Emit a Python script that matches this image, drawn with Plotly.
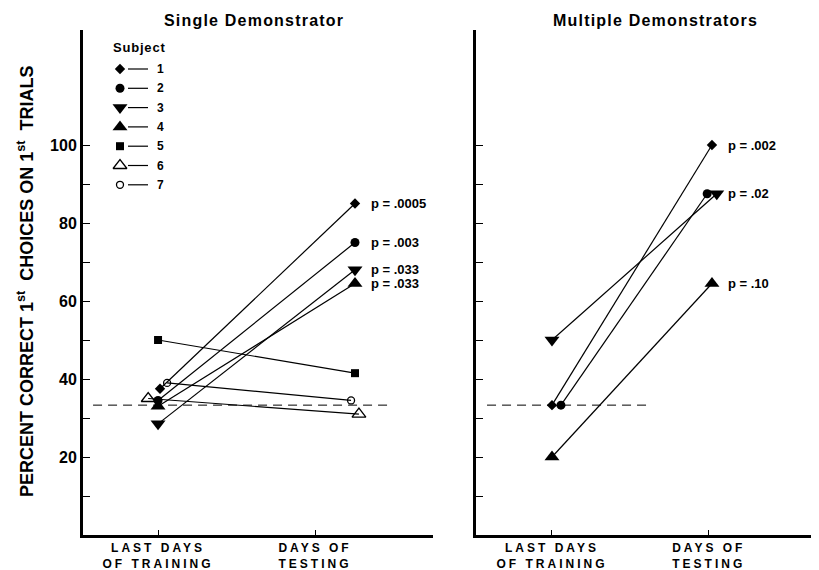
import plotly.graph_objects as go

# ---------------- data ----------------
subjects = ["1", "2", "3", "4", "5", "6", "7"]
single_training = [37.5, 34.5, 28.5, 33.0, 50.0, 35.0, 39.0]
single_testing = [85.0, 75.0, 68.0, 64.5, 41.5, 31.0, 34.5]
single_p = ["p = .0005", "p = .003", "p = .033", "p = .033", None, None, None]

multi_symbol_subject = ["1", "2", "3", "4"]
multi_training = [33.3, 33.3, 50.0, 20.0]
multi_testing = [100.0, 87.5, 87.5, 64.5]
multi_p = ["p = .002", None, "p = .02", "p = .10"]

chance = 33.3
phase_labels = ["LAST DAYS<br>OF TRAINING", "DAYS OF<br>TESTING"]
y_major_ticks = [20, 40, 60, 80, 100]
y_ticktext = ["20", "40", "60", "80", "100"]
y_minor_ticks = [10, 30, 50, 70, 90]

# ---------------- styles / layout ----------------
OFF = 8                      # page body margin
W, H = 819 - OFF, 570 - OFF  # figure size
FONT = "Liberation Sans"
sym = {"1": ("diamond", 8), "2": ("circle", 9), "3": ("triangle-down", 13),
       "4": ("triangle-up", 13), "5": ("square", 8),
       "6": ("triangle-up-open", 12), "7": ("circle-open", 7)}
# small horizontal offsets used to separate overlapping markers
left_jit_train = [0.01, 0, 0, 0, 0, -0.05, 0.046]
left_jit_test = [0, 0, 0, 0, 0, 0.02, -0.02]
right_jit_train = [0, 0.056, 0, 0]
right_jit_test = [0, -0.03, 0.03, 0]


def px_x(p):
    return (p - OFF) / W


def px_y(p):
    return 1 - (p - OFF) / H


def spaced(t, ls):
    return '<span style="letter-spacing:%spx">%s</span>' % (ls, t)


fig = go.Figure()


def add_pair(xa, ya, subj, x0, x1, y0, y1):
    s, sz = sym[subj]
    fig.add_trace(go.Scatter(
        x=[x0, x1], y=[y0, y1], mode="lines+markers", xaxis=xa, yaxis=ya,
        line=dict(color="black", width=1.2),
        marker=dict(symbol=s, size=sz, color="black",
                    line=dict(color="black", width=1.3 if "open" in s else 0)),
        showlegend=False, hoverinfo="skip"))


for i, subj in enumerate(subjects):
    add_pair("x", "y", subj, 0 + left_jit_train[i], 1 + left_jit_test[i],
             single_training[i], single_testing[i])
for i, subj in enumerate(multi_symbol_subject):
    add_pair("x2", "y2", subj, 0 + right_jit_train[i], 1 + right_jit_test[i],
             multi_training[i], multi_testing[i])

# chance lines
fig.add_trace(go.Scatter(x=[-0.33, 1.193], y=[chance, chance], mode="lines",
                         xaxis="x", yaxis="y", line=dict(color="black", width=1, dash="9px,6px"),
                         showlegend=False, hoverinfo="skip"))
fig.add_trace(go.Scatter(x=[-0.406, 0.6125], y=[chance, chance], mode="lines",
                         xaxis="x2", yaxis="y2", line=dict(color="black", width=1, dash="9px,6px"),
                         showlegend=False, hoverinfo="skip"))

annotations = []
for i, p in enumerate(single_p):
    if p:
        annotations.append(dict(x=1, y=single_testing[i], xref="x", yref="y", text="<b>%s</b>" % p,
                                xanchor="left", yanchor="middle", xshift=14, showarrow=False,
                                font=dict(family=FONT, size=13, color="black")))
for i, p in enumerate(multi_p):
    if p:
        annotations.append(dict(x=1, y=multi_testing[i], xref="x2", yref="y2", text="<b>%s</b>" % p,
                                xanchor="left", yanchor="middle", xshift=14, showarrow=False,
                                font=dict(family=FONT, size=13, color="black")))

# titles
annotations.append(dict(x=px_x(254), y=px_y(20), xref="paper", yref="paper",
                        xanchor="center", yanchor="middle",
                        text="<b>%s</b>" % spaced("Single Demonstrator", 1.2), showarrow=False,
                        font=dict(family=FONT, size=16, color="black")))
annotations.append(dict(x=px_x(655), y=px_y(20), xref="paper", yref="paper",
                        xanchor="center", yanchor="middle",
                        text="<b>%s</b>" % spaced("Multiple Demonstrators", 1.2), showarrow=False,
                        font=dict(family=FONT, size=16, color="black")))
# y axis title
annotations.append(dict(x=px_x(25), y=px_y(282), xref="paper", yref="paper",
                        xanchor="center", yanchor="middle",
                        text="<b>PERCENT CORRECT 1<sup>st</sup>  CHOICES ON 1<sup>st</sup>  TRIALS</b>",
                        textangle=-90, showarrow=False,
                        font=dict(family=FONT, size=18, color="black")))

# legend (drawn manually on a full-figure helper axis in pixel units)
LEG_MX, LEG_L0, LEG_L1, LEG_NX = 120, 128, 148, 160
LEG_Y0, LEG_DY = 69, 19.3
annotations.append(dict(x=111, y=47, xref="x3", yref="y3",
                        text="<b>%s</b>" % spaced("Subject", 0.8),
                        xanchor="left", yanchor="middle", showarrow=False,
                        font=dict(family=FONT, size=13, color="black")))
shapes = []
for i, subj in enumerate(subjects):
    yy = LEG_Y0 + i * LEG_DY
    s, sz = sym[subj]
    fig.add_trace(go.Scatter(x=[LEG_MX], y=[yy], mode="markers", xaxis="x3", yaxis="y3",
                             marker=dict(symbol=s, size=sz, color="black",
                                         line=dict(color="black", width=1.3 if "open" in s else 0)),
                             showlegend=False, hoverinfo="skip"))
    shapes.append(dict(type="line", xref="x3", yref="y3", x0=LEG_L0, x1=LEG_L1, y0=yy, y1=yy,
                       line=dict(color="black", width=1.2)))
    annotations.append(dict(x=LEG_NX, y=yy, xref="x3", yref="y3", text="<b>%s</b>" % subj,
                            xanchor="center", yanchor="middle",
                            showarrow=False, font=dict(family=FONT, size=12, color="black")))

axis_common = dict(showgrid=False, zeroline=False, showline=True, linecolor="black",
                   ticks="inside", tickcolor="black", automargin=False)
y_minor = dict(tickmode="array", tickvals=y_minor_ticks, ticks="inside",
               ticklen=7, tickwidth=1.2, tickcolor="black", showgrid=False)

xtick = ["<b>%s</b>" % "<br>".join(spaced(part, 3) for part in t.split("<br>")) for t in phase_labels]
xtickfont = dict(family=FONT, size=12, color="black")

y_dom = [px_y(535), px_y(30)]
fig.update_layout(
    width=W, height=H, margin=dict(l=0, r=0, t=0, b=0, pad=0),
    paper_bgcolor="white", plot_bgcolor="rgba(0,0,0,0)",
    xaxis=dict(domain=[px_x(83), px_x(433)], range=[-0.381, 1.396],
               tickvals=[0, 0.797], ticktext=xtick, tickfont=xtickfont,
               ticklen=5, tickwidth=1.2, linewidth=2.5, anchor="y", **axis_common),
    yaxis=dict(domain=y_dom, range=[0, 129.5], tickvals=y_major_ticks,
               ticktext=["<b>%s</b>" % t for t in y_ticktext],
               tickfont=dict(family=FONT, size=16, color="black"), minor=y_minor,
               ticklen=7, tickwidth=1.2, linewidth=3, anchor="x", **axis_common),
    xaxis2=dict(domain=[px_x(476), 1.0], range=[-0.475, 1.669],
                tickvals=[0, 0.98], ticktext=xtick, tickfont=xtickfont,
                ticklen=5, tickwidth=1.2, linewidth=2.5, anchor="y2", **axis_common),
    yaxis2=dict(domain=y_dom, range=[0, 129.5], tickvals=y_major_ticks, showticklabels=False,
                minor=y_minor,
                ticklen=7, tickwidth=1.2, linewidth=3, anchor="x2", **axis_common),
    xaxis3=dict(domain=[0, 1], range=[OFF, OFF + W], visible=False, anchor="y3", fixedrange=True),
    yaxis3=dict(domain=[0, 1], range=[OFF + H, OFF], visible=False, anchor="x3", fixedrange=True),
    annotations=annotations, shapes=shapes,
)

fig.write_html("out.html")
